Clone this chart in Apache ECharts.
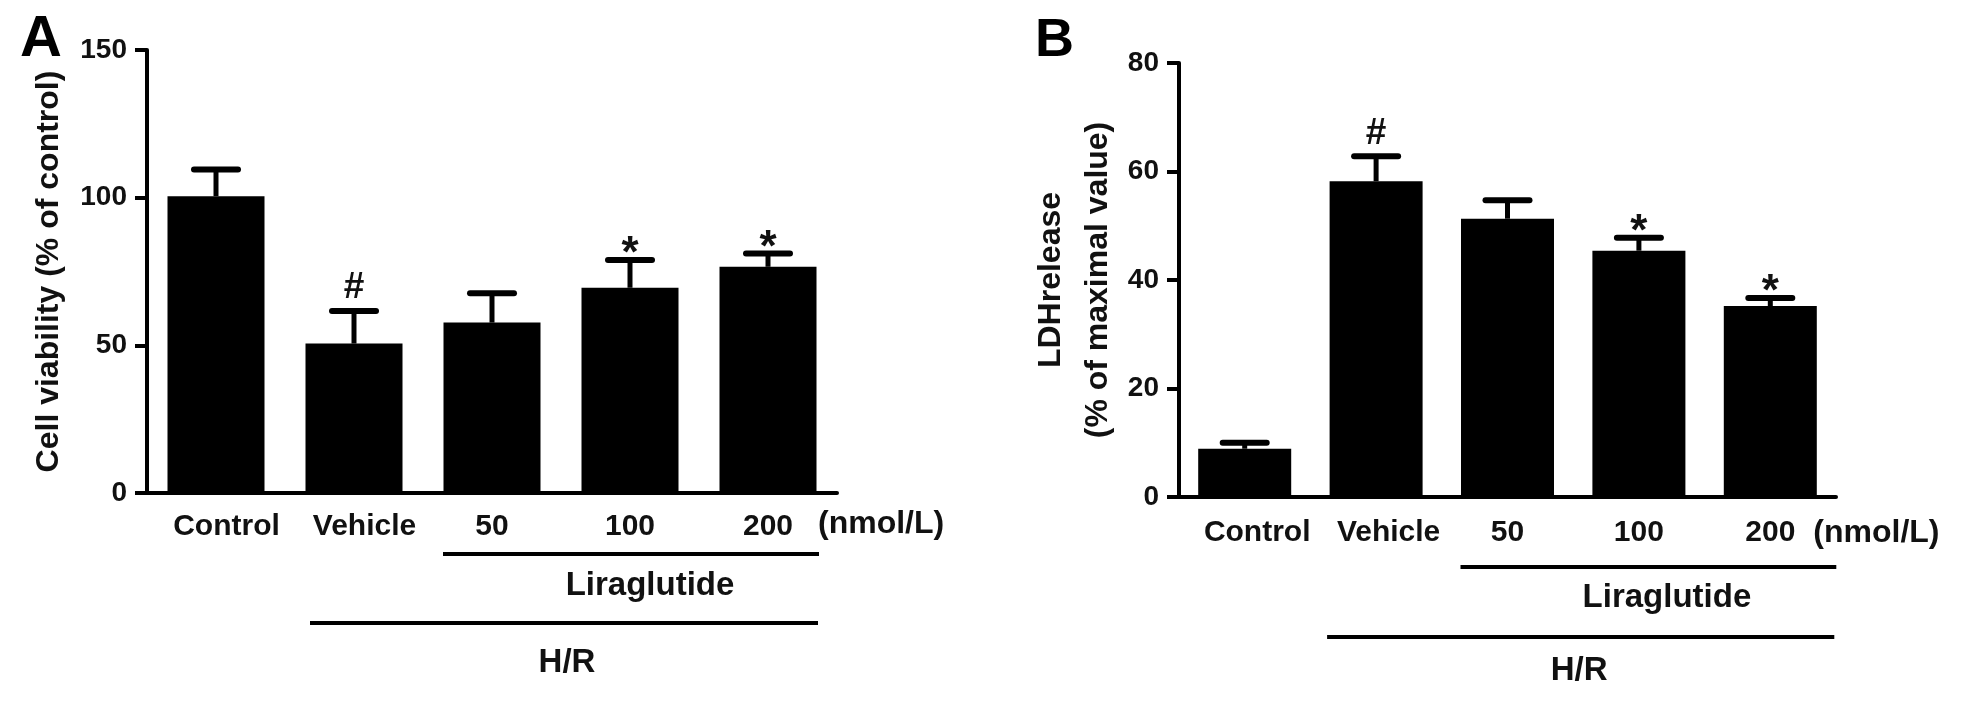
<!DOCTYPE html>
<html>
<head>
<meta charset="utf-8">
<script src="https://cdn.jsdelivr.net/npm/echarts@6/dist/echarts.min.js"></script>
<style>
html,body{margin:0;padding:0;background:#fff;}
#c{width:1965px;height:703px;}
</style>
</head>
<body>
<div id="c"></div>
<script>
// ---- data ----
const groups = ['Control', 'Vehicle', '50', '100', '200'];
const viabilityMean = [100.5, 50.6, 57.7, 69.5, 76.6];
const viabilityErr  = [9.0, 11.0, 9.9, 9.4, 4.5];
const viabilitySig  = ['', '#', '', '*', '*'];
const ldhMean = [8.9, 58.2, 51.3, 45.4, 35.2];
const ldhErr  = [1.1, 4.6, 3.4, 2.4, 1.5];
const ldhSig  = ['', '#', '', '*', '*'];
const unitLabel = '(nmol/L)';
const drugLabel = 'Liraglutide';
const modelLabel = 'H/R';
const yNameA = 'Cell viability (% of control)';
const yNameB = 'LDHrelease\n(% of maximal value)';

const FONT = "'Liberation Sans', Arial, Helvetica, sans-serif";
const INK = '#111';

const chart = echarts.init(document.getElementById('c'), null, {renderer: 'canvas'});

function xAxisCfg(gi, shiftPad, margin) {
  return {
    gridIndex: gi, type: 'category', data: groups,
    axisLine: {lineStyle: {color: '#000', width: 4}},
    axisTick: {alignWithLabel: true, length: 13, lineStyle: {color: '#000', width: 4}},
    axisLabel: {
      interval: 0, hideOverlap: false,
      margin: margin, fontSize: 30, fontWeight: 'bold', fontFamily: FONT, color: INK,
      formatter: v => (v === 'Control' || v === 'Vehicle') ? '{s|' + v + '}' : v,
      rich: {s: {fontSize: 30, fontWeight: 'bold', fontFamily: FONT, color: INK, padding: [0, 0, 0, shiftPad]}}
    }
  };
}
function yAxisCfg(gi, max, interval, name, nameGap, lh) {
  return {
    gridIndex: gi, type: 'value', min: 0, max: max, interval: interval,
    axisLine: {show: true, lineStyle: {color: '#000', width: 4}},
    axisTick: {show: true, length: 12, lineStyle: {color: '#000', width: 4}},
    splitLine: {show: false},
    axisLabel: {margin: 20, fontSize: 28, fontWeight: 'bold', fontFamily: FONT, color: INK},
    name: name, nameLocation: 'middle', nameRotate: 90, nameGap: nameGap,
    nameTextStyle: {fontSize: 32, fontWeight: 'bold', fontFamily: FONT, color: INK, lineHeight: lh}
  };
}
function errSeries(gi, means, errs, sigs) {
  return {
    type: 'custom', xAxisIndex: gi, yAxisIndex: gi, z: 5,
    data: means.map((m, i) => [i, m, errs[i]]),
    renderItem: function (params, api) {
      const i = api.value(0), m = api.value(1), e = api.value(2);
      const top = api.coord([i, m + e]);
      const base = api.coord([i, m]);
      const sig = sigs[params.dataIndex];
      const ch = [
        {type: 'rect', shape: {x: top[0] - 2.5, y: top[1], width: 5, height: base[1] - top[1]}, style: {fill: '#000'}},
        {type: 'rect', shape: {x: top[0] - 25, y: top[1] - 3, width: 50, height: 6, r: 3}, style: {fill: '#000'}}
      ];
      if (sig === '#') {
        ch.push({type: 'text', x: top[0], y: top[1] - 23,
          style: {text: sig, fontSize: 37, fontWeight: 'bold', fontFamily: FONT, fill: INK, align: 'center', verticalAlign: 'middle'}});
      } else if (sig) {
        ch.push({type: 'text', x: top[0], y: top[1] - 5,
          style: {text: sig, fontSize: 44, fontWeight: 'bold', fontFamily: FONT, fill: INK, align: 'center', verticalAlign: 'middle'}});
      }
      return {type: 'group', children: ch};
    }
  };
}

chart.setOption({
  animation: false,
  backgroundColor: '#fff',
  grid: [
    {left: 147, top: 50, width: 690, height: 443},
    {left: 1179, top: 63, width: 657, height: 434}
  ],
  xAxis: [xAxisCfg(0, 21, 19), xAxisCfg(1, 25, 21)],
  yAxis: [
    yAxisCfg(0, 150, 50, yNameA, 78, 40),
    yAxisCfg(1, 80, 20, yNameB, 57, 47)
  ],
  series: [
    {type: 'bar', xAxisIndex: 0, yAxisIndex: 0, data: viabilityMean, barWidth: 97, itemStyle: {color: '#000'}},
    {type: 'bar', xAxisIndex: 1, yAxisIndex: 1, data: ldhMean, barWidth: 93, itemStyle: {color: '#000'}},
    errSeries(0, viabilityMean, viabilityErr, viabilitySig),
    errSeries(1, ldhMean, ldhErr, ldhSig)
  ]
});

// annotations placed relative to the axes
function px(gi, idx) { return chart.convertToPixel({xAxisIndex: gi}, idx); }
function py(gi, v) { return chart.convertToPixel({yAxisIndex: gi}, v); }
function txt(x, y, text, size, align) {
  return {type: 'text', x: x, y: y, style: {text: text, fontSize: size, fontWeight: 'bold', fontFamily: FONT, fill: INK, align: align || 'center', verticalAlign: 'middle'}};
}
function hline(x1, x2, y) {
  return {type: 'line', shape: {x1: x1, y1: y, x2: x2, y2: y}, style: {stroke: '#000', lineWidth: 4}};
}
const a0 = py(0, 0), b0 = py(1, 0);
const g = [];
// panel letters
g.push({type: 'text', x: 20, y: 40, style: {text: 'A', fontSize: 58, fontWeight: 'bold', fontFamily: FONT, fill: '#000', align: 'left', verticalAlign: 'middle'}});
g.push({type: 'text', x: 1035, y: 41, style: {text: 'B', fontSize: 54, fontWeight: 'bold', fontFamily: FONT, fill: '#000', align: 'left', verticalAlign: 'middle'}});
// panel A annotations
g.push(txt(px(0, 4) + 50, a0 + 31, unitLabel, 32, 'left'));
g.push(hline(px(0, 2) - 49, px(0, 4) + 51, a0 + 61));
g.push(txt((px(0, 2) + px(0, 4)) / 2 + 20, a0 + 93, drugLabel, 33));
g.push(hline(px(0, 1) - 44, px(0, 4) + 50, a0 + 130));
g.push(txt((px(0, 1) + px(0, 4)) / 2 + 6, a0 + 170, modelLabel, 33));
// panel B annotations
g.push(txt(px(1, 4) + 43, b0 + 36, unitLabel, 32, 'left'));
g.push(hline(px(1, 2) - 47, px(1, 4) + 66, b0 + 70));
g.push(txt((px(1, 2) + px(1, 4)) / 2 + 28, b0 + 101, drugLabel, 33));
g.push(hline(px(1, 1) - 49, px(1, 4) + 64, b0 + 140));
g.push(txt((px(1, 1) + px(1, 4)) / 2 + 6, b0 + 174, modelLabel, 33));
chart.setOption({graphic: g});
</script>
</body>
</html>
